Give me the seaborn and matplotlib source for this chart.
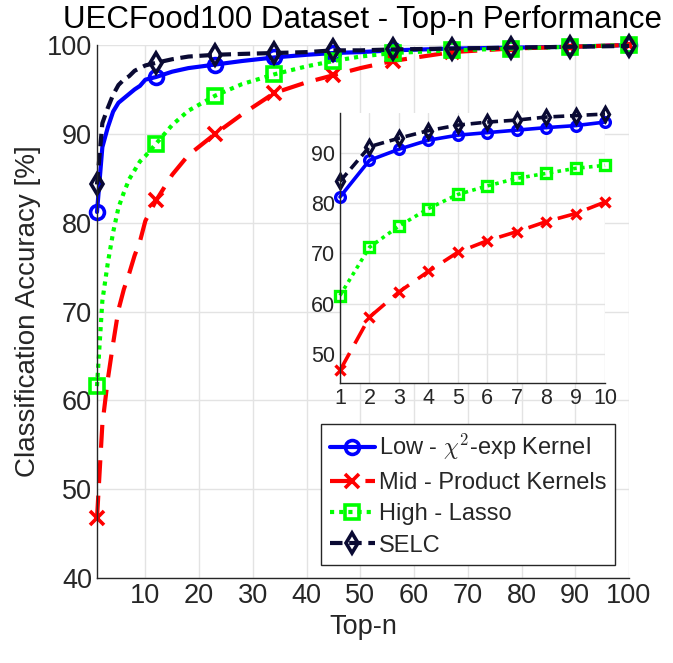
import matplotlib
matplotlib.use('Agg')
import matplotlib.pyplot as plt
import seaborn as sns

# top-n positions (markers every 11th rank)
top_n = [1, 2, 3, 4, 5, 6, 7, 8, 9, 10, 12, 15, 18, 23, 28, 34, 40, 45, 50, 56, 67, 78, 89, 100]
marker_n = [1, 12, 23, 34, 45, 56, 67, 78, 89, 100]

acc_low = [81.2, 88.5, 90.7, 92.5, 93.5, 94.0, 94.5, 95.0, 95.4, 96.1, 96.4, 97.0, 97.4, 97.8,
           98.2, 98.6, 98.9, 99.1, 99.2, 99.4, 99.6, 99.7, 99.8, 100.0]
acc_mid = [46.7, 57.3, 62.3, 66.4, 70.2, 72.5, 74.3, 76.3, 77.9, 80.2, 82.5, 85.4, 87.6, 90.0,
           92.2, 94.6, 95.8, 96.6, 97.4, 98.2, 99.2, 99.6, 99.8, 100.0]
acc_high = [61.6, 71.2, 75.4, 78.9, 81.7, 83.4, 84.9, 85.9, 86.9, 87.5, 88.9, 91.0, 92.6, 94.3,
            95.6, 96.7, 97.6, 98.2, 98.7, 99.1, 99.4, 99.6, 99.8, 100.0]
acc_selc = [84.3, 91.2, 92.9, 94.4, 95.5, 96.1, 96.5, 97.1, 97.4, 97.7, 98.0, 98.4, 98.7, 98.9,
            99.0, 99.1, 99.2, 99.4, 99.4, 99.5, 99.6, 99.7, 99.8, 99.9]

inset_n = top_n[:10]

series = [
    ('Low - $\\chi^2$-exp Kernel', acc_low, (0, 0, 1), '-', 'o'),
    ('Mid - Product Kernels', acc_mid, (1, 0, 0), (0, (5.5, 3)), 'x'),
    ('High - Lasso', acc_high, (0, 1, 0), (0, (1, 1.2)), 's'),
    ('SELC', acc_selc, (0.04, 0.04, 0.2), (0, (3, 1.6)), 'd'),
]

sns.set_theme(style='whitegrid')
plt.rcParams['font.family'] = ['Liberation Sans', 'DejaVu Sans']
plt.rcParams['mathtext.fontset'] = 'cm'

fig = plt.figure(figsize=(6.73, 6.63), dpi=100)
ax = fig.add_axes([0.1441, 0.1282, 0.7905, 0.8039])
ins = fig.add_axes([0.5052, 0.4223, 0.3938, 0.4072])

mark_idx = [top_n.index(n) for n in marker_n]
for name, vals, col, ls, mk in series:
    sns.lineplot(x=top_n, y=vals, ax=ax, color=col, linestyle=ls, linewidth=3,
                 marker=mk, markevery=mark_idx, markersize=10, markeredgewidth=2.6,
                 markerfacecolor='none' if mk != 'x' else col, markeredgecolor=col,
                 label=name, sort=False, errorbar=None, clip_on=False)
    sns.lineplot(x=inset_n, y=vals[:10], ax=ins, color=col, linestyle=ls, linewidth=2.6,
                 marker=mk, markersize=7, markeredgewidth=2.4,
                 markerfacecolor='none' if mk != 'x' else col, markeredgecolor=col,
                 legend=False, sort=False, errorbar=None, clip_on=False)

for a in (ax, ins):
    a.set_facecolor('white')
    a.grid(True, color='#e3e3e3', linewidth=1)
    for s in ('top', 'right'):
        a.spines[s].set_visible(False)
    for s in ('left', 'bottom'):
        a.spines[s].set_color('#262626')
        a.spines[s].set_linewidth(1)
    a.tick_params(direction='in', length=4, width=1, color='#262626', colors='#262626')

ax.set_xlim(1, 100)
ax.set_ylim(40, 100)
ax.set_xticks(range(10, 101, 10))
ax.set_yticks(range(40, 101, 10))
ax.tick_params(labelsize=19.5)
ax.set_title('UECFood100 Dataset - Top-n Performance', fontsize=22.5, pad=12, color='black')
ax.set_xlabel('Top-n', fontsize=19.5, color='#262626')
ax.set_ylabel('Classification Accuracy [%]', fontsize=20, color='#262626')

ins.set_xlim(1, 10)
ins.set_ylim(44.2, 97.9)
ins.set_xticks(range(1, 11))
ins.set_yticks(range(50, 91, 10))
ins.tick_params(labelsize=15.5)
ins.set_xlabel('')
ins.set_ylabel('')

leg = ax.legend(loc='lower right', bbox_to_anchor=(0.9138, 0.1478), bbox_transform=fig.transFigure,
                fontsize=17, frameon=True, fancybox=False, handlelength=1.9, handletextpad=0.2,
                borderpad=0.35, labelspacing=0.4, borderaxespad=0)
leg.get_frame().set_edgecolor('#262626')
leg.get_frame().set_linewidth(1)
leg.get_frame().set_alpha(1)

fig.savefig('out.png', dpi=100)
